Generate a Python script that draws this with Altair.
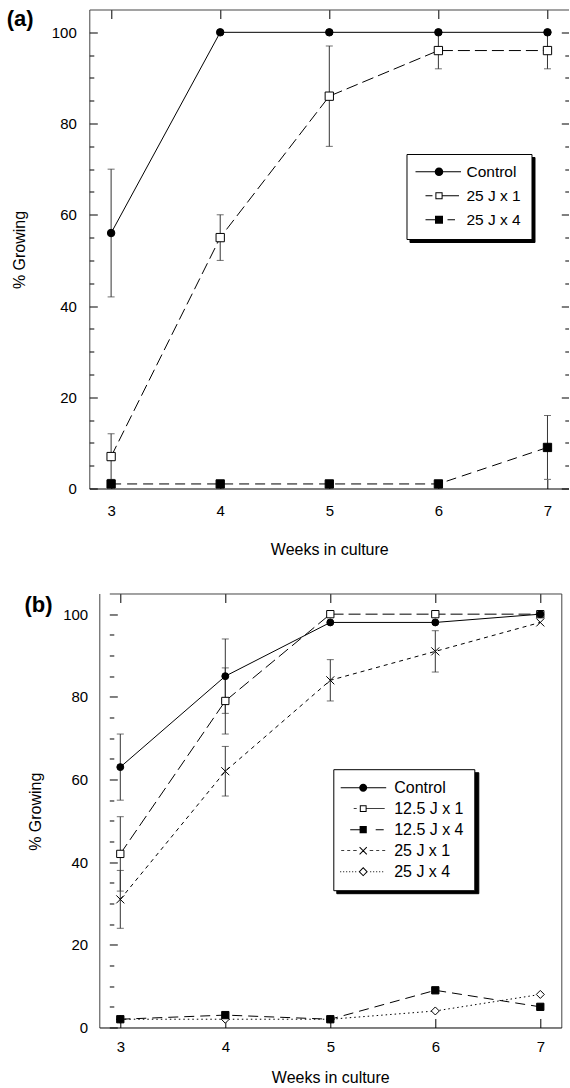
import altair as alt
import pandas as pd

FONT = "Liberation Sans"

weeks = [3, 4, 5, 6, 7]

# ---------- panel (a) ----------
a_names = ["Control", "25 J x 1", "25 J x 4"]
a_control = [56, 100, 100, 100, 100]
a_control_lo = [42, None, None, None, None]
a_control_hi = [70, None, None, None, None]
a_25x1 = [7, 55, 86, 96, 96]
a_25x1_lo = [2, 50, 75, 92, 92]
a_25x1_hi = [12, 60, 97, 100, 100]
a_25x4 = [1, 1, 1, 1, 9]
a_25x4_lo = [None, None, None, None, 2]
a_25x4_hi = [None, None, None, None, 16]

# ---------- panel (b) ----------
b_names = ["Control", "12.5 J x 1", "12.5 J x 4", "25 J x 1", "25 J x 4"]
b_control = [63, 85, 98, 98, 100]
b_control_lo = [55, 76, None, None, None]
b_control_hi = [71, 94, None, None, None]
b_125x1 = [42, 79, 100, 100, 100]
b_125x1_lo = [33, 71, None, None, None]
b_125x1_hi = [51, 87, None, None, None]
b_125x4 = [2, 3, 2, 9, 5]
b_125x4_lo = [None] * 5
b_125x4_hi = [None] * 5
b_25x1 = [31, 62, 84, 91, 98]
b_25x1_lo = [24, 56, 79, 86, None]
b_25x1_hi = [38, 68, 89, 96, None]
b_25x4 = [2, 2, 2, 4, 8]
b_25x4_lo = [None] * 5
b_25x4_hi = [None] * 5

x_domain = [2.8, 7.2]
y_domain = [0, 105]
x_values = [2.8] + weeks + [7.2]
y_values = list(range(0, 101, 5)) + [105]


def frame(names, vals, los, his):
    rows = []
    for n, v, lo, hi in zip(names, vals, los, his):
        for w, a, b, c in zip(weeks, v, lo, hi):
            rows.append(dict(week=w, series=n, value=a, lo=b, hi=c))
    return pd.DataFrame(rows)


df_a = frame(a_names, [a_control, a_25x1, a_25x4],
             [a_control_lo, a_25x1_lo, a_25x4_lo],
             [a_control_hi, a_25x1_hi, a_25x4_hi])
df_b = frame(b_names, [b_control, b_125x1, b_125x4, b_25x1, b_25x4],
             [b_control_lo, b_125x1_lo, b_125x4_lo, b_25x1_lo, b_25x4_lo],
             [b_control_hi, b_125x1_hi, b_125x4_hi, b_25x1_hi, b_25x4_hi])

XPATH = "M-1,-1L1,1M-1,1L1,-1"

a_styles = {
    "Control": dict(dash=None, shape="circle", fill="black", size=56),
    "25 J x 1": dict(dash=[12, 5], shape="square", fill="white", size=69),
    "25 J x 4": dict(dash=[10, 6], shape="square", fill="black", size=69),
}
b_styles = {
    "Control": dict(dash=None, shape="circle", fill="black", size=48),
    "12.5 J x 1": dict(dash=[12, 5], shape="square", fill="white", size=53),
    "12.5 J x 4": dict(dash=[10, 6], shape="square", fill="black", size=53),
    "25 J x 1": dict(dash=[4, 4], shape=XPATH, fill=None, size=64),
    "25 J x 4": dict(dash=[1.5, 3], shape="diamond", fill="white", size=64),
}


# ---------- legend symbol glyphs (pixel units, drawn as filled shapes) ----------
def rect(x0, x1, y0=-0.5, y1=0.5):
    return f"M{x0},{y0}H{x1}V{y1}H{x0}Z"


def circle(r):
    return f"M{r},0A{r},{r},0,1,1,{-r},0A{r},{r},0,1,1,{r},0Z"


def sq(h):
    return rect(-h, h, -h, h)


def ring_sq(h, t=1.0):
    i = h - t
    return f"M{-h},{-h}H{h}V{h}H{-h}ZM{-i},{-i}V{i}H{i}V{-i}Z"


def ring_diamond(h, t=1.0):
    i = round(h - t * 1.414, 3)
    return f"M0,{-h}L{h},0L0,{h}L{-h},0ZM0,{-i}L{-i},0L0,{i}L{i},0Z"


def xcross(h, t=1.0):
    a = round(t / 2.828, 3)
    b1 = f"M{-h-a},{-h+a}L{h-a},{h+a}L{h+a},{h-a}L{-h+a},{-h-a}Z"
    b2 = f"M{h-a},{-h-a}L{-h-a},{h-a}L{-h+a},{h+a}L{h+a},{-h+a}Z"
    return b1 + b2


def dashes(segs, t=0.9):
    return "".join(rect(x0, x1, -t / 2, t / 2) for x0, x1 in segs)


a_leg_paths = [
    rect(-23.5, 22) + circle(4.3),
    dashes([(-13.5, -6.5), (3.5, 20)], 0.8) + ring_sq(3.6),
    dashes([(-13.5, -4), (8.5, 16)]) + sq(4),
]
b_leg_paths = [
    rect(-22.5, 23) + circle(4),
    dashes([(-9.5, -6.5), (3.3, 21.5)], 0.8) + ring_sq(3.4),
    dashes([(-13, -3.5), (12.5, 20.5)]) + sq(3.6),
    dashes([(-22, -19), (-16, -13), (-10, -6.5), (6.5, 10), (13, 16), (19, 22)], 0.8) + xcross(3.6),
    dashes([(x, x + 1) for x in (-23, -20, -17, -14, -11, -8, 7, 10, 13, 16, 19)], 1) + ring_diamond(4.6),
]

FRAME = "#444"


def panel(df, names, styles, leg_paths, W, H, inset, lab_pad_x, lab_pad_y,
          xtitle_y, ytitle_x, ytitle_y, leg_x, leg_y, leg_font, row_pad, leg_pad,
          sym_off, lab_off, label_w, tag, tag_x, tag_y):
    xs = alt.Scale(domain=x_domain, range=[inset, W], nice=False, zero=False)
    ys = alt.Scale(domain=y_domain, nice=False, zero=False)
    frame_x = "datum.value % 1 !== 0"
    xax = alt.Axis(orient="bottom", values=x_values,
                   labelExpr="datum.value % 1 === 0 ? datum.value : ''",
                   ticks=False, tickSize=0,
                   domain=True, domainColor="black", domainWidth=1,
                   grid=True, gridWidth=1, gridOpacity=1,
                   gridColor={"condition": {"test": frame_x, "value": FRAME}, "value": "black"},
                   gridDash={"condition": {"test": frame_x, "value": [3000, 1]},
                             "value": [9, H - 18, 9, 3000]},
                   labelPadding=lab_pad_x, labelFont=FONT, labelFontSize=15,
                   labelColor="black", labelFlush=False, labelOverlap=False,
                   title="Weeks in culture", titleFont=FONT, titleFontSize=16,
                   titleFontWeight="normal", titleColor="black",
                   titleY=xtitle_y, titleBaseline="middle")
    top_ax = alt.Axis(orient="top", labels=False, ticks=False, domain=False, grid=False,
                      title=tag, titleX=tag_x, titleY=tag_y, titleAlign="left",
                      titleBaseline="top", titleAngle=0, titleFont=FONT,
                      titleFontSize=22, titleFontWeight="bold", titleColor="black")
    yax = alt.Axis(orient="left", values=y_values,
                   labelExpr="datum.value % 20 === 0 ? datum.value : ''",
                   ticks=False, tickSize=0, domain=False,
                   grid=True, gridWidth=1, gridOpacity=1,
                   gridColor={"condition": {"test": "datum.value > 104", "value": FRAME},
                              "value": "black"},
                   gridDash={"condition": [
                       {"test": "datum.value > 104", "value": [0, inset, W - inset, 3000]},
                       {"test": "datum.value % 20 === 0",
                        "value": [0, inset, 8, W - inset - 16, 8, 3000]}],
                       "value": [0, inset, 4.5, W - inset - 9, 4.5, 3000]},
                   labelPadding=lab_pad_y, labelFont=FONT, labelFontSize=15,
                   labelColor="black", labelOverlap=False,
                   title="% Growing", titleFont=FONT, titleFontSize=16,
                   titleFontWeight="normal", titleColor="black",
                   titleX=ytitle_x, titleY=ytitle_y, titleBaseline="middle",
                   titleAngle=270)

    def X(axis=None):
        return alt.X("week:Q", scale=xs, axis=axis)

    def Y(f, axis=None):
        return alt.Y(f + ":Q", scale=ys, axis=axis)

    base = alt.Chart(df)
    eb = base.transform_filter("isValid(datum.lo)")
    layers = [
        eb.mark_rule(color="#333", strokeWidth=1).encode(x=X(xax), y=Y("lo", yax), y2="hi:Q"),
        eb.mark_tick(color="#333", orient="horizontal", size=7, thickness=1).encode(x=X(), y=Y("lo")),
        eb.mark_tick(color="#333", orient="horizontal", size=7, thickness=1).encode(x=X(), y=Y("hi")),
    ]
    for n in names:
        st = styles[n]
        kw = dict(color="black", strokeWidth=1)
        if st["dash"]:
            kw["strokeDash"] = st["dash"]
        layers.append(base.transform_filter(alt.datum.series == n)
                      .mark_line(**kw).encode(x=X(), y=Y("value")))
    for n in reversed(names):
        st = styles[n]
        if st["fill"] is None:
            mk = dict(shape=st["shape"], filled=False, stroke="black",
                      strokeWidth=1, size=st["size"], opacity=1)
        else:
            mk = dict(shape=st["shape"], filled=True, fill=st["fill"],
                      stroke="black", strokeWidth=1, size=st["size"], opacity=1)
        layers.append(base.transform_filter(alt.datum.series == n)
                      .mark_point(**mk).encode(x=X(), y=Y("value")))

    common = dict(title=None, orient="none", symbolSize=4, symbolStrokeWidth=0,
                  symbolOffset=sym_off, labelFont=FONT,
                  labelFontSize=leg_font, padding=leg_pad, rowPadding=row_pad,
                  cornerRadius=0, labelLimit=300, symbolFillColor="black",
                  labelColor="black")
    main_leg = alt.Legend(legendX=leg_x, legendY=leg_y, fillColor="white",
                          strokeColor="black", zindex=3, labelOffset=lab_off,
                          **common)
    # drop shadow of the legend box: a label-less twin drawn 3px down/right
    shadow_leg = alt.Legend(legendX=leg_x + 3, legendY=leg_y + 3,
                            fillColor="black", strokeColor="black", zindex=2,
                            symbolType=leg_paths[0], labelExpr="''",
                            labelOffset=lab_off + label_w, **common)
    legend_layer = (
        base.transform_calculate(shadow="datum.series")
        .transform_filter("false")
        .mark_point(filled=True, opacity=1)
        .encode(
            x=X(top_ax), y=Y("value"),
            shape=alt.Shape("series:N", scale=alt.Scale(domain=names, range=leg_paths),
                            legend=main_leg),
            color=alt.Color("shadow:N",
                            scale=alt.Scale(domain=list(reversed(names)),
                                            range=["black"] * len(names)),
                            legend=shadow_leg),
        )
    )
    layers.append(legend_layer)
    return (
        alt.layer(*layers)
        .resolve_axis(x="independent", y="independent")
        .properties(width=W, height=H, view=alt.ViewBackground(strokeOpacity=0))
    )


top = panel(df_a, a_names, a_styles, a_leg_paths, W=480, H=479, inset=0,
            lab_pad_x=14.5, lab_pad_y=13, xtitle_y=60.7,
            ytitle_x=-69.3, ytitle_y=240, leg_x=317.2, leg_y=144.5,
            leg_font=15.5, row_pad=7, leg_pad=10, sym_off=14.75, lab_off=19.75,
            label_w=55, tag="(a)", tag_x=-83, tag_y=-1.5)
bottom = panel(df_b, b_names, b_styles, b_leg_paths, W=472, H=434, inset=10,
               lab_pad_x=12.3, lab_pad_y=1.6, xtitle_y=49.7,
               ytitle_x=-53.3, ytitle_y=217.7, leg_x=244, leg_y=175.7,
               leg_font=16, row_pad=5, leg_pad=10.5, sym_off=11.4, lab_off=23,
               label_w=70, tag="(b)", tag_x=-65.3, tag_y=1.2)

chart = (
    alt.vconcat(top, bottom, spacing=29)
    .resolve_scale(shape="independent", color="independent")
    .resolve_legend(shape="independent", color="independent")
    .properties(padding={"left": 6.3, "top": 2.5, "right": 0, "bottom": 0})
)

chart.save("out.html", embed_options={"renderer": "svg", "actions": False})
